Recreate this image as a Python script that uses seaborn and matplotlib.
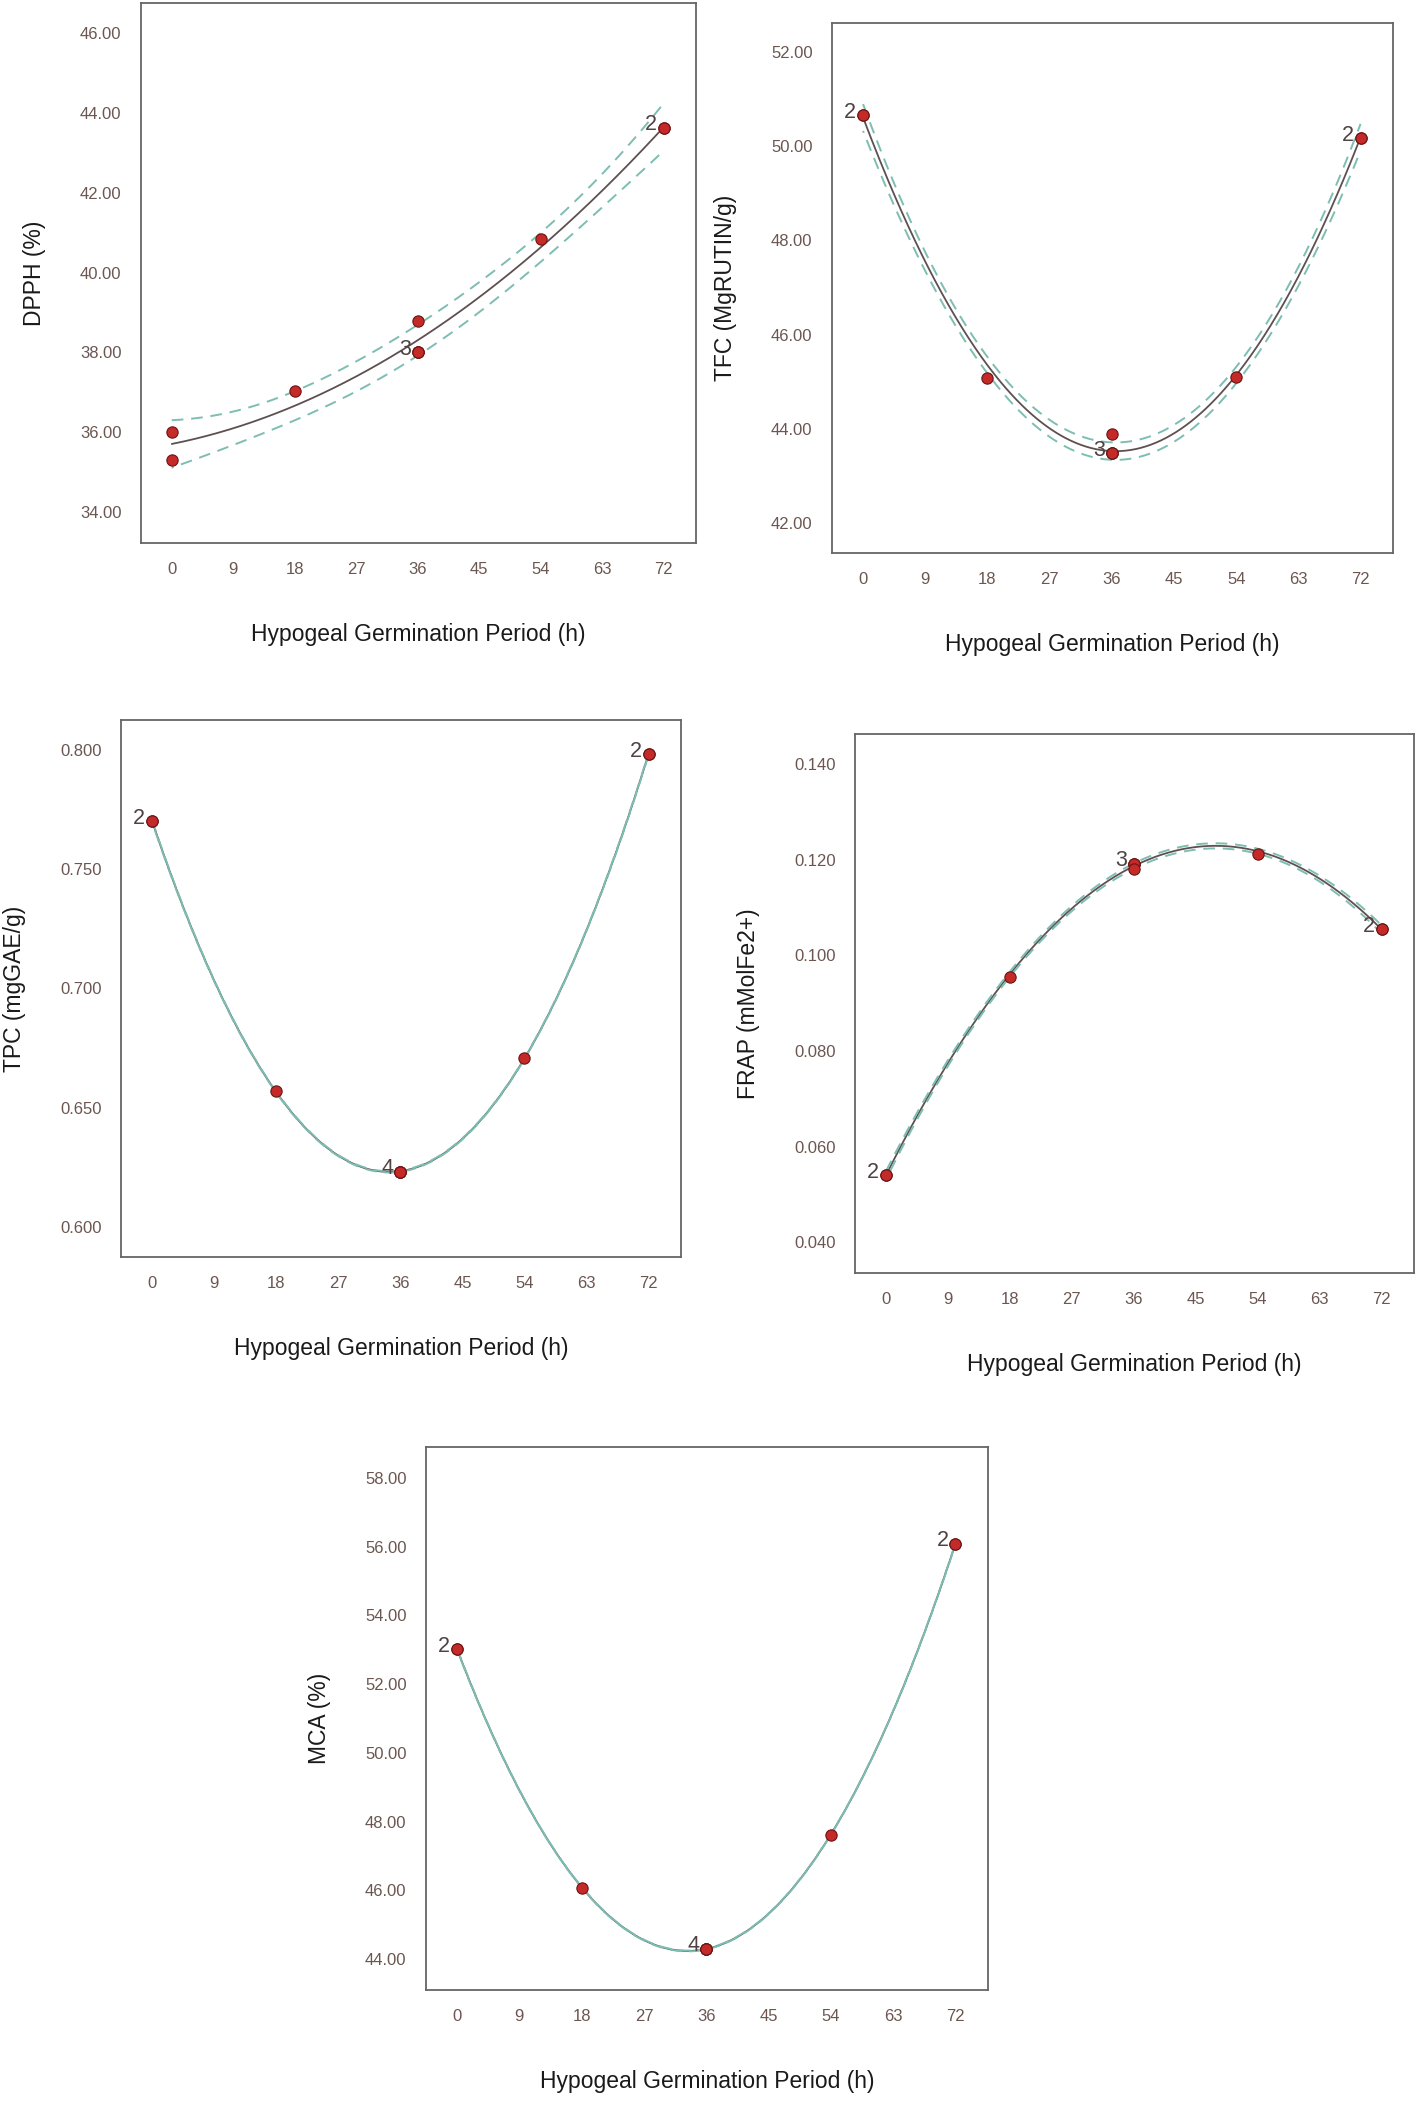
import numpy as np
import pandas as pd
import matplotlib
matplotlib.use("Agg")
import matplotlib.pyplot as plt
import seaborn as sns
from matplotlib.ticker import FormatStrFormatter

# runs (10 runs, 5 germination levels)
hours = [0, 0, 18, 36, 36, 36, 36, 54, 72, 72]
dpph = [36.00, 35.31, 37.03, 38.80, 38.00, 38.00, 38.00, 40.85, 43.63, 43.63]
tfc = [50.66, 50.66, 45.08, 43.89, 43.48, 43.48, 43.48, 45.10, 50.18, 50.18]
tpc = [0.7703, 0.7703, 0.6570, 0.6231, 0.6231, 0.6231, 0.6231, 0.6709, 0.7985, 0.7985]
frap = [0.0541, 0.0541, 0.0955, 0.1192, 0.1192, 0.1192, 0.1180, 0.1212, 0.1055, 0.1055]
mca = [53.01, 53.01, 46.08, 44.30, 44.30, 44.30, 44.30, 47.60, 56.09, 56.09]

x_ticks = [0, 9, 18, 27, 36, 45, 54, 63, 72]
x_label = "Hypogeal Germination Period (h)"

# panel: response, y label, y ticks, y limits, tick format, box in pixels (left, top, right, bottom)
panels = [
    (dpph, "DPPH (%)", np.arange(34, 46.1, 2), (33.23, 46.75), "%.2f", (141, 3, 696, 543)),
    (tfc, "TFC (MgRUTIN/g)", np.arange(42, 52.1, 2), (41.36, 52.62), "%.2f", (832, 23, 1393, 553)),
    (tpc, "TPC (mgGAE/g)", np.arange(0.60, 0.801, 0.05), (0.5872, 0.8128), "%.3f", (121, 720, 681, 1257)),
    (frap, "FRAP (mMolFe2+)", np.arange(0.04, 0.141, 0.02), (0.0336, 0.1463), "%.3f", (855, 734, 1414, 1273)),
    (mca, "MCA (%)", np.arange(44, 58.1, 2), (43.1, 58.9), "%.2f", (426, 1447, 988, 1990)),
]

T_975 = 2.365  # t quantile, 7 residual dof

W, H = 1418, 2102


def quad_model(x, y):
    x = np.asarray(x, float)
    y = np.asarray(y, float)
    X = np.column_stack([np.ones_like(x), x, x ** 2])
    beta, *_ = np.linalg.lstsq(X, y, rcond=None)
    resid = y - X @ beta
    s2 = resid @ resid / (len(y) - 3)
    cov = s2 * np.linalg.inv(X.T @ X)
    xg = np.linspace(0, 72, 300)
    Xg = np.column_stack([np.ones_like(xg), xg, xg ** 2])
    fit = Xg @ beta
    se = np.sqrt(np.einsum("ij,jk,ik->i", Xg, cov, Xg))
    return pd.DataFrame({"x": xg, "fit": fit,
                         "lo": fit - T_975 * se, "hi": fit + T_975 * se})


sns.set_style("white")
plt.rcParams["font.family"] = ["Liberation Sans", "DejaVu Sans"]

fig = plt.figure(figsize=(W / 100, H / 100), dpi=100)

for resp, ylab, yt, ylim, fmt, (l, t, r, b) in panels:
    ax = fig.add_axes([l / W, 1 - b / H, (r - l) / W, (b - t) / H])
    df = pd.DataFrame({"x": hours, "y": resp})
    model = quad_model(df["x"], df["y"])

    sns.lineplot(data=model, x="x", y="fit", ax=ax, color="#5e5050", lw=1.3)
    # 95% CI bands, dashes out of phase so they cover the fit when they coincide
    ax.plot(model["x"], model["hi"], color="#7dbdb2", lw=1.4, ls=(0, (6, 4)), zorder=3)
    ax.plot(model["x"], model["lo"], color="#7dbdb2", lw=1.4, ls=(5, (6, 4)), zorder=3)
    sns.scatterplot(data=df, x="x", y="y", ax=ax, s=66, color="#c42a28",
                    edgecolor="#6a1515", linewidth=0.8, zorder=5)

    counts = df.groupby(["x", "y"]).size().reset_index(name="n")
    for _, row in counts[counts["n"] > 1].iterrows():
        ax.annotate(str(int(row["n"])), (row["x"], row["y"]), xytext=(-5, 2),
                    textcoords="offset points", ha="right", va="center",
                    fontsize=15.5, color="#4e4242", zorder=6)

    ax.set_xlim(-4.5, 76.7)
    ax.set_ylim(*ylim)
    ax.set_xticks(x_ticks)
    ax.set_yticks(yt)
    ax.yaxis.set_major_formatter(FormatStrFormatter(fmt))
    ax.tick_params(direction="out", length=10, width=1.2, color="#666666",
                   labelcolor="#6b5650", labelsize=12, pad=4)
    for sp in ax.spines.values():
        sp.set_color("#666666")
        sp.set_linewidth(1.3)

    w, h = r - l, b - t
    ax.set_xlabel(x_label, fontsize=16.5, color="#1a1a1a")
    ax.set_ylabel(ylab, fontsize=16.5, color="#1a1a1a")
    ax.xaxis.set_label_coords(0.5, -80 / h)
    ax.yaxis.set_label_coords(-95 / w, 0.5)

fig.savefig("out.png", dpi=100, facecolor="white")
plt.close(fig)
